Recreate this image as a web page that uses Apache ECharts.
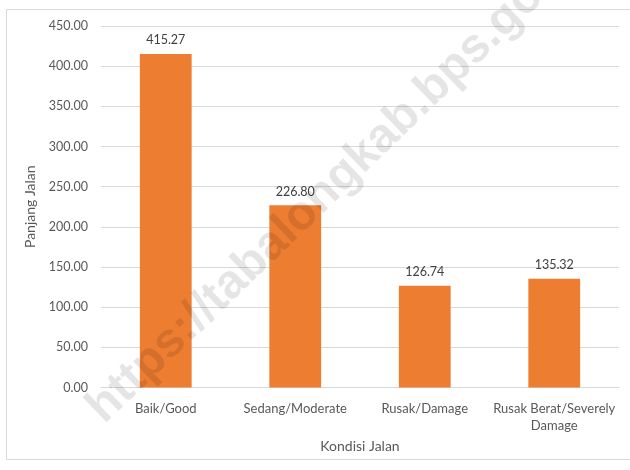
<!DOCTYPE html>
<html>
<head>
<meta charset="utf-8">
<script src="https://cdn.jsdelivr.net/npm/echarts@6/dist/echarts.min.js"></script>
<style>html,body{margin:0;padding:0;background:#fff}#c{width:630px;height:470px}</style>
</head>
<body>
<div id="c"></div>
<script>
const categories = ['Baik/Good', 'Sedang/Moderate', 'Rusak/Damage', 'Rusak Berat/Severely\nDamage'];
const values = [415.27, 226.80, 126.74, 135.32];
const yTicks = { min: 0, max: 450, interval: 50 };
const xTitle = 'Kondisi Jalan';
const yTitle = 'Panjang Jalan';
const watermark = 'https://tabalongkab.bps.go.id';

const font = 'Lato, "Open Sans", sans-serif';
const chart = echarts.init(document.getElementById('c'), null, { renderer: 'canvas' });
chart.setOption({
  animation: false,
  backgroundColor: '#fff',
  grid: { left: 101, right: 11, top: 26, bottom: 82.5, containLabel: false },
  xAxis: {
    type: 'category',
    data: categories,
    name: xTitle,
    nameLocation: 'middle',
    nameGap: 46,
    nameTextStyle: { color: '#595959', fontSize: 14, fontFamily: font },
    axisLine: { lineStyle: { color: '#d9d9d9' } },
    axisTick: { show: false },
    axisLabel: { color: '#595959', fontSize: 13, fontFamily: font, margin: 13, lineHeight: 17, interval: 0 }
  },
  yAxis: {
    type: 'value',
    min: yTicks.min, max: yTicks.max, interval: yTicks.interval,
    name: yTitle,
    nameLocation: 'middle',
    nameGap: 61,
    nameTextStyle: { color: '#595959', fontSize: 14, fontFamily: font },
    axisLine: { show: false },
    axisTick: { show: false },
    splitLine: { lineStyle: { color: '#d9d9d9' } },
    axisLabel: { color: '#595959', fontSize: 12.5, fontFamily: font, margin: 13, formatter: v => v.toFixed(2) }
  },
  series: [{
    type: 'bar',
    data: values,
    barWidth: '40%',
    itemStyle: { color: '#ED7D31' },
    label: { show: true, position: 'top', distance: 7, color: '#404040', fontSize: 12.5, fontFamily: font, formatter: p => p.value.toFixed(2) }
  }],
  graphic: [
    { type: 'rect', shape: { x: 6.5, y: 9.5, width: 640, height: 450 }, style: { fill: 'none', stroke: '#d9d9d9', lineWidth: 1 }, silent: true, z: -1 },
    { type: 'text', x: 95, y: 415, rotation: 44 * Math.PI / 180, style: { text: watermark, fill: 'rgba(0,0,0,0.1)', font: 'bold 48px "Liberation Sans", Arial, sans-serif', align: 'left', verticalAlign: 'middle' }, silent: true, z: 100 }
  ]
});
</script>
</body>
</html>
